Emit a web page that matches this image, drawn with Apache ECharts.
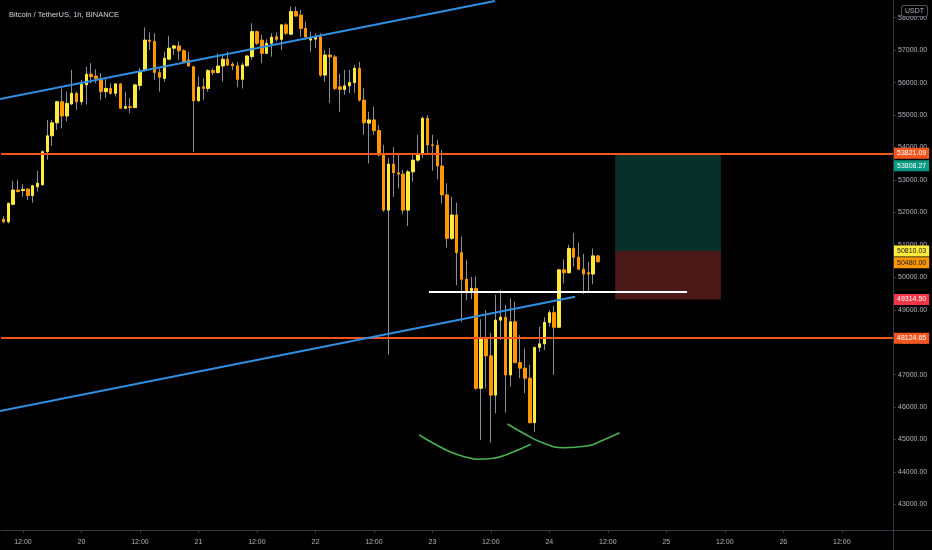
<!DOCTYPE html>
<html>
<head>
<meta charset="utf-8">
<script src="https://cdn.jsdelivr.net/npm/echarts@6/dist/echarts.min.js"></script>
<style>html,body{margin:0;padding:0;background:#000}#c{width:932px;height:550px}</style>
</head>
<body>
<div id="c"></div>
<script>
// ---- data (BTC/USDT 1h, first candle = 19th 08:00) ----
const startDay = 19, startHour = 8, nCategories = 183;
const opens = [51790,51710,52250,52690,52670,52720,52520,52790,52850,53870,
54360,54760,55410,54970,55340,55670,55410,55930,56260,56200,
56130,55720,55820,55670,55960,55210,55260,55230,55910,56390,
57310,57270,56310,56130,56720,57060,57130,56980,56700,56490,
55440,55870,55820,56370,56310,56510,56720,56570,56520,56100,
56520,56800,57570,57310,56900,57210,57410,57330,57780,57490,
58190,58080,57670,57310,57340,57410,56230,56850,56790,55870,
55790,55900,56000,56440,55460,54750,54850,54520,53770,52070,
53490,53220,53180,52070,53250,53610,53790,54900,54080,54060,
53430,52540,51200,51920,50760,49940,49560,49660,46580,48120,
47580,46370,48680,48770,46990,48630,47370,47200,46890,45520,
47840,47950,48610,48910,48460,50230,50140,50890,50620,50250,
50140,50100,50660];
const closes = [51710,52280,52690,52640,52710,52520,52820,52900,53870,54360,
54760,55410,54970,55360,55670,55410,55950,56260,56180,56130,
55720,55820,55670,55960,55210,55260,55230,55930,56340,57310,
57270,56310,56160,56750,57060,57130,56980,56640,56510,55440,
55860,55820,56370,56310,56510,56720,56540,56520,56100,56540,
56820,57570,57210,56900,57210,57400,57330,57780,57520,58190,
58050,57670,57410,57370,57410,56230,56850,56790,55820,55790,
55900,56000,56440,55460,54760,54850,54520,53770,52070,53490,
53220,53180,52070,53250,53610,53790,54900,54080,54060,53430,
52540,51200,51920,50760,49940,49560,49660,46580,48120,47580,
46370,48680,48770,46990,48630,47370,47200,46890,45520,47840,
47950,48610,48910,48460,50230,50140,50890,50620,50250,50100,
50100,50660,50480];
const lows = [51660,51660,52230,52620,52480,52380,52300,52640,52820,53620,
54050,54540,54590,54800,55310,55160,55310,55330,55980,55980,
55460,55520,55620,55570,55190,55180,55050,55210,55770,56340,
57000,56080,55720,56030,56700,56850,56700,56620,56490,53870,
55410,55460,55720,56230,56270,56030,56510,56390,55860,55820,
56490,56700,57160,56600,56880,56800,57260,57000,57470,57470,
58030,57410,57310,56950,57060,56180,56030,55370,55770,55100,
55620,55680,55680,55410,54390,53510,54390,53720,52020,47610,
52480,52740,51950,51580,52950,53560,53670,53770,53280,53020,
52280,50920,51150,49760,48630,49300,49330,46530,44990,46580,
44900,45810,48070,45830,46630,47350,46890,46430,45500,45240,
47710,47760,48480,46990,48430,49810,50120,50330,50220,49490,
49560,49790,50450];
const highs = [51890,52300,52970,53000,52870,52740,52850,53280,53900,54850,
54850,55440,55820,55720,56390,55720,56080,56490,56600,56410,
56290,56130,55980,55980,55980,55720,55520,55950,56440,57700,
57550,57520,56440,56950,57440,57160,57260,57030,56950,56510,
56180,56130,56410,56440,56900,56850,56950,56630,56640,56610,
56850,57830,57600,57470,57330,57520,57540,57800,57830,58340,
58340,58240,57880,57570,57520,57520,57000,57070,56850,56270,
56390,56390,56540,56640,55830,55100,55260,54690,54080,53670,
54010,53820,53310,53310,53770,54390,54950,55000,54390,54230,
53920,52900,52480,52300,51250,50530,50010,50020,48710,48990,
48290,49460,49610,49150,49350,49250,48220,47810,47300,47860,
48480,48770,48990,49120,50250,50560,51000,51370,51070,50720,
50480,50890,50690];

// drawings, x in candle index units, y in price
const upperChannel = [[-0.7, 55495], [100.85, 58515]];
const lowerChannel = [[-0.7, 45880], [117.27, 49403]];
const neckline = [[87.3, 49547], [140.25, 49547]];
const arcLeft = [[85.3,45141],[88.2,44885],[91.6,44626],[95.0,44453],[97.4,44392],[100.5,44423],[103.9,44577],[108.2,44854]];
const arcRight = [[103.4,45480],[106.7,45193],[110.1,44934],[114.9,44749],[119.7,44802],[123.1,44987],[126.4,45211]];
const levels = [53821.09, 48124.65];
const positionBox = { from: 125.5, to: 147.2, entry: 50810.03, target: 53808.27, stop: 49314.50 };
const lastPrice = 50480.00;
const priceMin = 42213, priceMax = 58545;

// categories (hours)
const categories = [];
for (let i = 0; i < nCategories; i++) {
  const t = startHour + i;
  categories.push({ day: startDay + Math.floor(t / 24), hour: t % 24 });
}
const catLabels = categories.map(c => c.hour === 0 ? String(c.day) : (c.hour === 12 ? '12:00' : ''));
const showTick = (idx) => categories[idx].hour % 12 === 0;

const wickData = opens.map((o, i) => [o, closes[i], lows[i], highs[i]]);
const bodyData = opens.map((o, i) => [o, closes[i], Math.min(o, closes[i]), Math.max(o, closes[i])]);

const FONT = 'Liberation Sans, Arial, sans-serif';
const axisGrey = '#b2b5be';
const lineGrey = '#363a45';
const lvlColor = '#f4561e';

function priceLabel(bg, fg, offsetY) {
  return {
    show: true, position: 'end', distance: 1,
    formatter: p => Number(p.value).toFixed(2),
    backgroundColor: bg, color: fg, fontSize: 7, fontFamily: FONT,
    padding: [2, 3, 2, 3], offset: [0, offsetY || 0]
  };
}

const chart = echarts.init(document.getElementById('c'), null, { renderer: 'canvas' });
chart.setOption({
  backgroundColor: '#000000',
  animation: false,
  title: {
    text: 'Bitcoin / TetherUS, 1h, BINANCE', left: 4, top: 6,
    textStyle: { color: '#d1d4dc', fontSize: 7.5, fontWeight: 'normal', fontFamily: FONT }
  },
  grid: { left: 1, right: 39, top: 0, bottom: 20 },
  xAxis: [{
    type: 'category', data: catLabels, boundaryGap: true,
    axisLine: { show: true, onZero: false, lineStyle: { color: lineGrey } },
    axisTick: { show: true, alignWithLabel: true, interval: showTick, length: 3, lineStyle: { color: lineGrey } },
    axisLabel: { interval: showTick, color: axisGrey, fontSize: 7, fontFamily: FONT, margin: 9 },
    splitLine: { show: false }
  }, {
    type: 'value', min: -0.5, max: nCategories - 0.5, show: false,
    axisLine: { onZero: false }
  }],
  yAxis: {
    type: 'value', position: 'right', min: priceMin, max: priceMax, splitNumber: 16, scale: true,
    axisLine: { show: true, onZero: false, lineStyle: { color: lineGrey } },
    axisTick: { show: true, length: 3, lineStyle: { color: lineGrey } },
    axisLabel: { color: axisGrey, fontSize: 7, fontFamily: FONT, margin: 5, showMinLabel: false, showMaxLabel: false,
      formatter: v => v.toFixed(2) },
    splitLine: { show: false }
  },
  graphic: [
    { type: 'line', shape: { x1: 893.5, y1: 530, x2: 893.5, y2: 550 }, style: { stroke: lineGrey, lineWidth: 1 }, z: 10 },
    { type: 'line', shape: { x1: 893, y1: 530.5, x2: 932, y2: 530.5 }, style: { stroke: lineGrey, lineWidth: 1 }, z: 10 },
    { type: 'text', left: 901, top: 5, z: 100,
      style: { text: 'USDT', fill: axisGrey, font: '7px Liberation Sans', backgroundColor: '#000',
        borderColor: '#50535e', borderWidth: 1, borderRadius: 2, padding: [2, 3, 1, 3] } }
  ],
  series: [
    { // wicks
      type: 'candlestick', data: wickData, barWidth: 1, z: 2,
      itemStyle: { color: '#8a8d96', color0: '#8a8d96', borderColor: '#8a8d96', borderColor0: '#8a8d96', borderWidth: 1 }
    },
    { // bodies
      type: 'candlestick', data: bodyData, barWidth: 3, z: 3,
      itemStyle: { color: '#ffeb3b', color0: '#ff9800', borderColor: '#ffeb3b', borderColor0: '#ff9800', borderWidth: 1 }
    },
    { // position box
      type: 'line', xAxisIndex: 1, data: [], z: 1,
      markArea: {
        silent: true,
        data: [
          [{ coord: [positionBox.from, positionBox.entry], itemStyle: { color: '#07302b' } }, { coord: [positionBox.to, positionBox.target] }],
          [{ coord: [positionBox.from, positionBox.stop], itemStyle: { color: '#4a1918' } }, { coord: [positionBox.to, positionBox.entry] }]
        ]
      }
    },
    {
      type: 'line', xAxisIndex: 1, data: upperChannel, showSymbol: false, z: 5,
      lineStyle: { color: '#2f8fe0', width: 2 }
    },
    {
      type: 'line', xAxisIndex: 1, data: lowerChannel, showSymbol: false, z: 5,
      lineStyle: { color: '#2f8fe0', width: 2 }
    },
    {
      type: 'line', xAxisIndex: 1, data: neckline, showSymbol: false, z: 5,
      lineStyle: { color: '#ffffff', width: 2 }
    },
    {
      type: 'line', xAxisIndex: 1, data: arcLeft, showSymbol: false, smooth: true, z: 5,
      lineStyle: { color: '#4caf50', width: 1.6 }
    },
    {
      type: 'line', xAxisIndex: 1, data: arcRight, showSymbol: false, smooth: true, z: 5,
      lineStyle: { color: '#4caf50', width: 1.6 }
    },
    {
      type: 'line', xAxisIndex: 1, data: [], z: 6,
      markLine: {
        silent: true, symbol: ['none', 'none'], animation: false,
        data: [
          { yAxis: levels[0], lineStyle: { color: lvlColor, width: 2, type: 'solid' }, label: priceLabel(lvlColor, '#ffffff') },
          { yAxis: levels[1], lineStyle: { color: lvlColor, width: 2, type: 'solid' }, label: priceLabel(lvlColor, '#ffffff') },
          { yAxis: positionBox.target, lineStyle: { color: 'rgba(0,0,0,0)', width: 0 }, label: priceLabel('#089981', '#ffffff', 12) },
          { yAxis: positionBox.entry, lineStyle: { color: 'rgba(0,0,0,0)', width: 0 }, label: priceLabel('#ffeb3b', '#131722') },
          { yAxis: lastPrice, lineStyle: { color: 'rgba(0,0,0,0)', width: 0 }, label: priceLabel('#ff9800', '#131722', 1) },
          { yAxis: positionBox.stop, lineStyle: { color: 'rgba(0,0,0,0)', width: 0 }, label: priceLabel('#f23645', '#ffffff') }
        ]
      }
    }
  ]
});
</script>
</body>
</html>
